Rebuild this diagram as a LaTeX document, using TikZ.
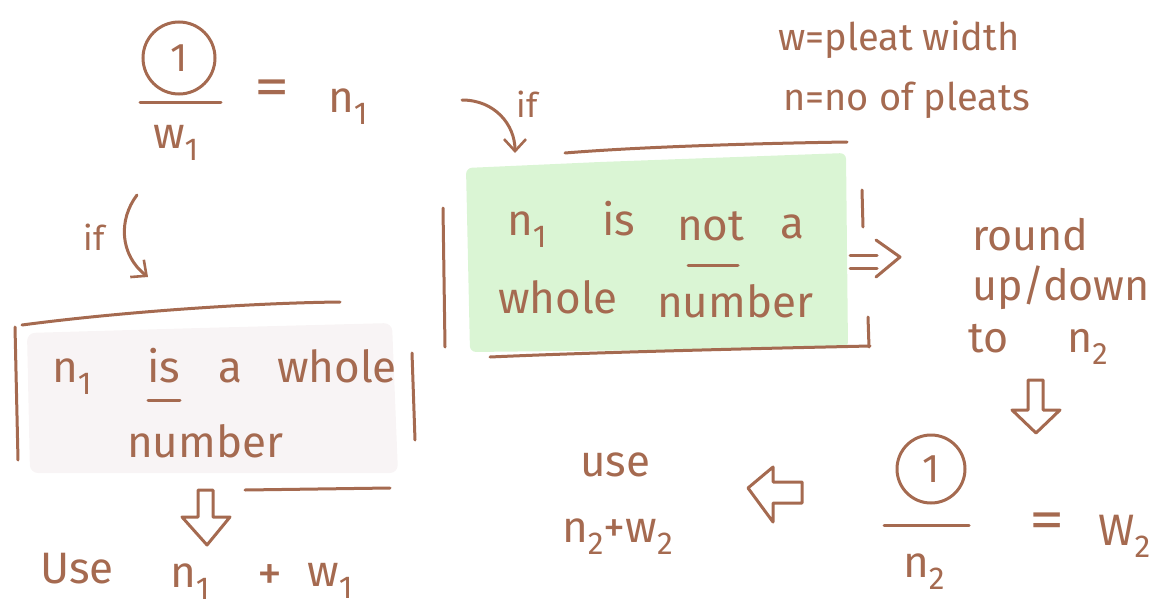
\documentclass[tikz,border=0pt]{standalone}
\usepackage{fontspec}
\setmainfont{Fira Sans}
\usepackage{graphicx}
\usetikzlibrary{arrows.meta}
\definecolor{ink}{RGB}{165,106,80}
\definecolor{greenfill}{RGB}{218,245,212}
\definecolor{pinkfill}{RGB}{248,244,245}
\newcommand{\lowsub}[1]{\raisebox{-0.28em}{\scalebox{0.72}{#1}}}
\newcommand{\wideeq}{\scalebox{1.6}[1.25]{=}}
\begin{document}
\begin{tikzpicture}[x=1pt,y=-1pt,
 stroke/.style={draw=ink, line width=3pt, line cap=round, line join=round},
 hw/.style={text=ink, inner sep=0pt, anchor=base west, font=\fontsize{44}{48}\selectfont},
 hwmid/.style={hw, font=\fontsize{43}{46}\selectfont},
 hwsmall/.style={hw, font=\fontsize{38}{42}\selectfont},
 hwif/.style={hw, anchor=center, font=\fontsize{34}{38}\selectfont},
 eqsign/.style={hw, anchor=center},
 plussign/.style={hw, anchor=center, font=\fontsize{50}{54}\selectfont},
 circled/.style={draw=ink, line width=3pt, circle, inner sep=0pt, text=ink, font=\fontsize{40}{44}\selectfont},
 barb/.style={-{Straight Barb[length=12pt,width=22pt,line width=2.6pt]}},
 blockarrow/.style={stroke}
]
\useasboundingbox (0,0) rectangle (1176,608);

% ---------- fills ----------
\fill[greenfill, rounded corners=6pt] (466,168) -- (600,162) -- (846,153) -- (848,348) -- (470,352) -- cycle;
\fill[pinkfill, rounded corners=8pt] (27,333) -- (200,328) -- (392,323) -- (398,473) -- (30,473) -- cycle;

% ---------- green box brackets ----------
\draw[stroke] (565,153) .. controls (650,146) and (780,143) .. (847,142);
\draw[stroke] (443,208) -- (445,347);
\draw[stroke] (862,190) -- (863,227);
\draw[stroke] (868,317) -- (869,347);
\draw[stroke] (490,357) .. controls (600,352) and (780,348) .. (870,346);

% ---------- pink box brackets ----------
\draw[stroke] (22,325) .. controls (120,312) and (250,303) .. (340,302);
\draw[stroke] (15,327) -- (18,460);
\draw[stroke] (412,353) -- (415,440);
\draw[stroke] (245,490) -- (390,488);

% ---------- top-left fraction ----------
\node[circled, minimum size=72pt] (c1) at (179,58) {1};
\draw[stroke] (140,102) -- (221,102);
\node[hw] (w1) at (153,148) {w\lowsub{1}};
\node[eqsign] (eq1) at (272,93) {\wideeq};
\node[hw] (n1) at (328,112) {n\lowsub{1}};

% ---------- legend ----------
\node[hwsmall] (leg1) at (778,50) {w=pleat width};
\node[hwsmall] (leg2) at (783,110) {n=no of pleats};

% ---------- "if" arrows ----------
\node[hwif] (if1) at (527,104) {if};
\coordinate (a1s) at (462,100);
\coordinate (a1e) at (515,153);
\draw[stroke, barb] (a1s) .. controls (495,100) and (515,125) .. (a1e);

\node[hwif] (if2) at (94,237) {if};
\coordinate (a2s) at (137,195);
\coordinate (a2e) at (148,277);
\draw[stroke, barb] (a2s) .. controls (118,220) and (120,255) .. (a2e);

% ---------- green box text ----------
\node[hw] (g1) at (507,235) {n\lowsub{1}};
\node[hw] (g2) at (602,235) {is};
\node[hw] (g3) at (677,240) {not};
\draw[stroke] (688,265) -- (738,265);
\node[hw] (g4) at (780,238) {a};
\node[hw] (g5) at (498,313) {whole};
\node[hw] (g6) at (657,317) {number};

% ---------- implies arrow ----------
\coordinate (im1) at (850,255);
\coordinate (im2) at (850,268);
\draw[stroke] (im1) -- (877,255);
\draw[stroke] (im2) -- (877,268);
\draw[stroke] (876,240) -- (900,257) -- (876,277);

% ---------- round up/down ----------
\node[hwmid] (r1) at (972,250) {round};
\node[hwmid] (r2) at (972,300) {up/down};
\node[hwmid] (r3) at (968,352) {to};
\node[hwmid] (r4) at (1067,352) {n\lowsub{2}};

% ---------- right down arrow ----------
\draw[blockarrow] (1028,380) -- (1043,380) -- (1043,410) -- (1060,410) -- (1036,433) -- (1012,410) -- (1028,410) -- cycle;

% ---------- lower-right fraction ----------
\node[circled, minimum size=68pt] (c2) at (931,469) {1};
\draw[stroke] (884,525) -- (969,525);
\node[hw] (n2) at (903,577) {n\lowsub{2}};
\node[eqsign] (eq2) at (1047,526) {\wideeq};
\node[hw] (W2) at (1098,545) {W\lowsub{2}};

% ---------- left arrow ----------
\draw[blockarrow] (802,482) -- (802,503) -- (773,503) -- (773,522) -- (748,488) -- (773,467) -- (773,482) -- cycle;

% ---------- use n2 + w2 ----------
\node[hw] (use2) at (580,476) {use};
\node[hw] (nw2) at (562,542) {n\lowsub{2}+w\lowsub{2}};

% ---------- pink box text ----------
\node[hw] (p1) at (52,382) {n\lowsub{1}};
\node[hw] (p2) at (147,382) {is};
\draw[stroke] (148,400) -- (180,400);
\node[hw] (p3) at (218,382) {a};
\node[hw] (p4) at (277,382) {whole};
\node[hw] (p5) at (127,457) {number};

% ---------- left down arrow ----------
\draw[blockarrow] (198,490) -- (213,490) -- (213,517) -- (230,517) -- (207,545) -- (182,517) -- (198,517) -- cycle;

% ---------- use n1 + w1 ----------
\node[hw] (use1) at (40,583) {Use};
\node[hw] (u1n) at (170,587) {n\lowsub{1}};
\node[plussign] (plus1) at (270,578) {+};
\node[hw] (u1w) at (307,586) {w\lowsub{1}};
\end{tikzpicture}
\end{document}
